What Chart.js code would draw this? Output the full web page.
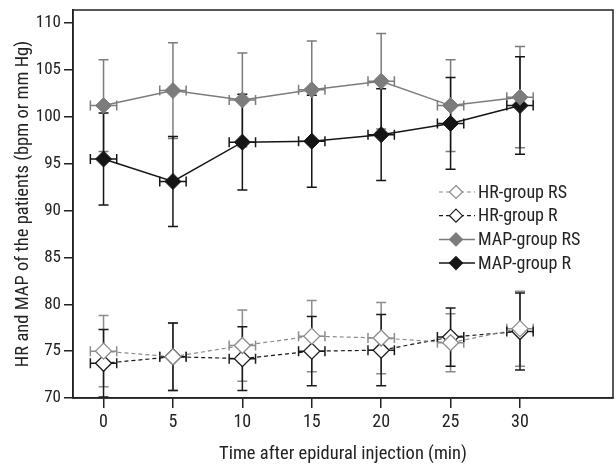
<!DOCTYPE html>
<html>
<head>
<meta charset="utf-8">
<script src="https://cdn.jsdelivr.net/npm/chart.js@4"></script>
<style>
  html, body { margin: 0; padding: 0; background: #fff; }
  #canvas { width: 616px; height: 465px; }
</style>
</head>
<body>
<div id="canvas"><canvas id="myChart"></canvas></div>
<script>
const minutes = [0, 5, 10, 15, 20, 25, 30];
const timeErr = 0.95;

const hrRS = [75.0, 74.4, 75.6, 76.6, 76.4, 75.9, 77.4];
const hrRSsd = [3.8, 3.6, 3.8, 3.8, 3.8, 3.1, 4.0];
const hrR = [73.7, 74.4, 74.2, 75.0, 75.1, 76.5, 77.1];
const hrRsd = [3.6, 3.6, 3.4, 3.7, 3.8, 3.1, 4.1];
const mapRS = [101.2, 102.8, 101.8, 102.9, 103.8, 101.2, 102.1];
const mapRSsd = [4.9, 5.1, 5.0, 5.2, 5.1, 4.9, 5.4];
const mapR = [95.5, 93.1, 97.3, 97.4, 98.1, 99.3, 101.2];
const mapRsd = [4.9, 4.8, 5.1, 4.9, 4.9, 4.9, 5.2];

const xTicks = [0, 5, 10, 15, 20, 25, 30];
const yTicks = [70, 75, 80, 85, 90, 95, 100, 105, 110];

const FONT = '"Roboto Condensed", "Liberation Sans Narrow", sans-serif';

function pts(ys) {
    return minutes.map((m, i) => ({ x: m, y: ys[i] }));
}

const data = {
    datasets: [
        {
            label: 'HR-group RS',
            data: pts(hrRS),
            sd: hrRSsd,
            borderColor: '#8c8c8c',
            backgroundColor: '#ffffff',
            pointBorderColor: '#8c8c8c',
            pointBackgroundColor: '#ffffff',
            borderWidth: 1.2,
            borderDash: [4, 3],
            pointStyle: 'rectRot',
            pointRadius: 8,
            pointBorderWidth: 1.3
        },
        {
            label: 'HR-group R',
            data: pts(hrR),
            sd: hrRsd,
            borderColor: '#1a1a1a',
            backgroundColor: '#ffffff',
            pointBorderColor: '#1a1a1a',
            pointBackgroundColor: '#ffffff',
            borderWidth: 1.2,
            borderDash: [4, 3],
            pointStyle: 'rectRot',
            pointRadius: 8,
            pointBorderWidth: 1.3
        },
        {
            label: 'MAP-group RS',
            data: pts(mapRS),
            sd: mapRSsd,
            borderColor: '#7c7c7c',
            backgroundColor: '#7c7c7c',
            pointBorderColor: '#7c7c7c',
            pointBackgroundColor: '#7c7c7c',
            borderWidth: 1.5,
            pointStyle: 'rectRot',
            pointRadius: 8,
            pointBorderWidth: 1
        },
        {
            label: 'MAP-group R',
            data: pts(mapR),
            sd: mapRsd,
            borderColor: '#151515',
            backgroundColor: '#151515',
            pointBorderColor: '#151515',
            pointBackgroundColor: '#151515',
            borderWidth: 1.5,
            pointStyle: 'rectRot',
            pointRadius: 8,
            pointBorderWidth: 1
        }
    ]
};

// error bars (vertical sd, horizontal time), drawn under the markers
const errorBars = {
    id: 'errorBars',
    beforeDatasetsDraw(chart) {
        const ctx = chart.ctx;
        const xs = chart.scales.x, ys = chart.scales.y;
        const cap = 5;
        ctx.save();
        chart.data.datasets.forEach(ds => {
            ctx.strokeStyle = ds.borderColor;
            ctx.lineWidth = 1.5;
            ctx.setLineDash([]);
            ds.data.forEach((p, i) => {
                const px = xs.getPixelForValue(p.x);
                const py = ys.getPixelForValue(p.y);
                const top = ys.getPixelForValue(p.y + ds.sd[i]);
                const bot = ys.getPixelForValue(p.y - ds.sd[i]);
                const lx = xs.getPixelForValue(p.x - timeErr);
                const rx = xs.getPixelForValue(p.x + timeErr);
                ctx.beginPath();
                ctx.moveTo(px, top); ctx.lineTo(px, bot);
                ctx.moveTo(px - cap, top); ctx.lineTo(px + cap, top);
                ctx.moveTo(px - cap, bot); ctx.lineTo(px + cap, bot);
                ctx.moveTo(lx, py); ctx.lineTo(rx, py);
                ctx.moveTo(lx, py - cap); ctx.lineTo(lx, py + cap);
                ctx.moveTo(rx, py - cap); ctx.lineTo(rx, py + cap);
                ctx.stroke();
            });
        });
        ctx.restore();
    }
};

// frame around plot and legend inside it
const frameAndLegend = {
    id: 'frameAndLegend',
    afterDraw(chart) {
        const ctx = chart.ctx;
        const a = chart.chartArea;
        ctx.save();
        ctx.strokeStyle = '#222';
        ctx.lineWidth = 1.5;
        ctx.strokeRect(a.left, a.top, a.right - a.left, a.bottom - a.top);

        const lx = 439, ly = 192, gap = 23.7;
        ctx.font = '18px ' + FONT;
        ctx.textBaseline = 'middle';
        chart.data.datasets.forEach((ds, i) => {
            const y = ly + i * gap;
            ctx.strokeStyle = ds.borderColor;
            ctx.lineWidth = ds.borderWidth;
            ctx.setLineDash(ds.borderDash || []);
            ctx.beginPath();
            ctx.moveTo(lx, y); ctx.lineTo(lx + 36, y);
            ctx.stroke();
            ctx.setLineDash([]);
            ctx.beginPath();
            const cx = lx + 17, r = 6.5;
            ctx.moveTo(cx, y - r); ctx.lineTo(cx + r, y); ctx.lineTo(cx, y + r); ctx.lineTo(cx - r, y); ctx.closePath();
            ctx.fillStyle = ds.pointBackgroundColor;
            ctx.fill();
            ctx.lineWidth = 1.2;
            ctx.strokeStyle = ds.pointBorderColor;
            ctx.stroke();
            ctx.fillStyle = '#222';
            ctx.fillText(ds.label, lx + 39, y + 1);
        });
        ctx.restore();
    }
};

const options = {
    responsive: false,
    animation: false,
    layout: { autoPadding: false, padding: { top: 10, right: 3, left: 0, bottom: 0 } },
    scales: {
        x: {
            type: 'linear',
            min: -2.2,
            max: 36.7,
            afterBuildTicks: s => { s.ticks = xTicks.map(v => ({ value: v })); },
            afterFit: s => { s.height = 67; s.paddingLeft = 0; s.paddingRight = 0; },
            grid: { drawOnChartArea: false, drawTicks: true, tickLength: 10, color: '#222', lineWidth: 1.5 },
            border: { display: true, color: '#222', width: 1.5 },
            ticks: { color: '#222', font: { family: FONT, size: 18 }, padding: 4, maxRotation: 0 },
            title: { display: true, text: 'Time after epidural injection (min)', color: '#222', font: { family: FONT, size: 18.5 }, padding: { top: 4, bottom: 0 } }
        },
        y: {
            min: 70,
            max: 111.4,
            afterBuildTicks: s => { s.ticks = yTicks.map(v => ({ value: v })); },
            afterFit: s => { s.width = 73; s.paddingTop = 0; s.paddingBottom = 0; },
            grid: { drawOnChartArea: false, drawTicks: true, tickLength: 9, color: '#222', lineWidth: 1.5 },
            border: { display: true, color: '#222', width: 1.5 },
            ticks: { color: '#222', font: { family: FONT, size: 17 }, padding: 3 },
            title: { display: true, text: 'HR and MAP of the patients (bpm or mm Hg)', color: '#222', font: { family: FONT, size: 18.5 }, padding: { top: 12, bottom: 0 } }
        }
    },
    plugins: {
        legend: { display: false },
        tooltip: { enabled: false }
    }
};

const canvas = document.getElementById('myChart');
canvas.width = 616;
canvas.height = 465;
const ctx = canvas.getContext('2d');

const myChart = new Chart(ctx, {
    type: 'line',
    data: data,
    options: options,
    plugins: [errorBars, frameAndLegend]
});
</script>
</body>
</html>
